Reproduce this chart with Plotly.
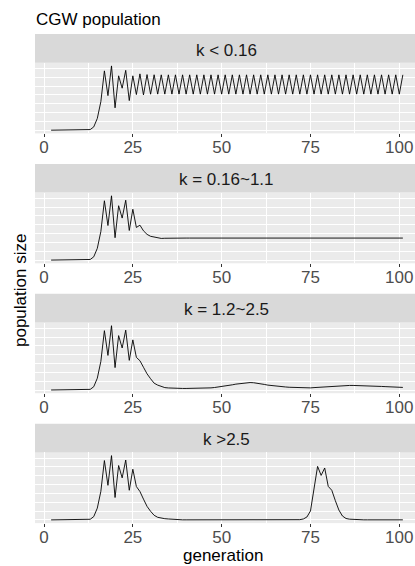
import plotly.graph_objects as go

# ---------------- data ----------------
generation = list(range(2, 102))

pop_k_lt_016 = [
    5, 5, 5, 5, 6, 6, 7, 8, 10, 13, 18, 40, 190, 670, 1620, 3360, 1960, 3640, 1270, 3080,
    2380, 3390, 1680,
    3080, 2020, 3190, 2000, 3150, 2040, 3140, 2045,
    3135, 2045, 3135, 2045, 3135, 2045, 3135, 2045, 3135, 2045,
    3135, 2045, 3135, 2045, 3135, 2045, 3135, 2045, 3135, 2045,
    3135, 2045, 3135, 2045, 3135, 2045, 3135, 2045, 3135, 2045,
    3135, 2045, 3135, 2045, 3135, 2045, 3135, 2045, 3135, 2045,
    3135, 2045, 3135, 2045, 3135, 2045, 3135, 2045, 3135, 2045,
    3135, 2045, 3135, 2045, 3135, 2045, 3135, 2045, 3135, 2045,
    3135, 2045, 3135, 2045, 3135, 2045, 3135, 2045, 3135,
]

pop_k_016_11 = [
    5, 5, 5, 5, 6, 6, 7, 8, 10, 13, 18, 40, 190, 670, 1620, 3360, 1960, 3640, 1270, 3080,
    2380, 3390, 1680,
    2880, 1850, 1980, 1660, 1460, 1350, 1300, 1255, 1230, 1240, 1248,
    1250, 1250, 1250, 1250, 1250, 1250, 1250, 1250, 1250, 1250,
    1250, 1250, 1250, 1250, 1250, 1250, 1250, 1250, 1250, 1250,
    1250, 1250, 1250, 1250, 1250, 1250, 1250, 1250, 1250, 1250,
    1250, 1250, 1250, 1250, 1250, 1250, 1250, 1250, 1250, 1250,
    1250, 1250, 1250, 1250, 1250, 1250, 1250, 1250, 1250, 1250,
    1250, 1250, 1250, 1250, 1250, 1250, 1250, 1250, 1250, 1250,
    1250, 1250, 1250, 1250, 1250, 1250,
]

pop_k_12_25 = [
    5, 5, 5, 5, 6, 6, 7, 8, 10, 13, 18, 40, 190, 670, 1620, 3360, 1960, 3640, 1270, 3080,
    2380, 3390, 1680,
    2840, 1850, 1660, 1290, 920, 640, 390, 280, 195, 140, 120,
    105, 98, 94, 92, 92, 92, 92, 94, 97, 102, 110,
    125, 145, 168, 185, 224, 263, 297, 336, 364, 392,
    415, 425, 415, 392, 364, 319, 280, 252, 224, 207,
    190, 175, 160, 148, 138, 128, 122, 120, 124, 140,
    155, 168, 180, 192, 205, 222, 240, 252, 260, 262,
    262, 260, 252, 245, 238, 232, 224, 215, 205, 196,
    185, 175, 168, 160, 150,
]

pop_k_gt_25 = [
    5, 5, 5, 5, 6, 6, 7, 8, 10, 13, 18, 40, 190, 670, 1620, 3360, 1960, 3640, 1270, 3080,
    2380, 3390, 1680,
    2870, 1890, 1610, 1180, 770, 490, 265, 150, 95, 73, 56, 34, 17,
    8, 8, 8, 8, 8, 8, 8, 8, 8, 8,
    8, 8, 8, 8, 8, 8, 8, 8, 8, 8,
    8, 8, 8, 8, 8, 8, 8, 8, 8, 8,
    8, 8, 8, 8,
    17, 56, 168, 510, 1790, 3030, 2520, 2940, 1900, 1680,
    1090, 560, 224, 84, 45, 28, 22, 17,
    8, 8, 8, 8, 8, 8, 8, 8, 8, 8, 8, 8,
]

panel_labels = ["k < 0.16", "k = 0.16~1.1", "k = 1.2~2.5", "k >2.5"]
series = [pop_k_lt_016, pop_k_016_11, pop_k_12_25, pop_k_gt_25]
x_ticks = [0, 25, 50, 75, 100]
title_text = "CGW population"
x_title = "generation"
y_title = "population size"

# ---------------- layout geometry (pixels) ----------------
W, H = 415, 566
FONT = "Liberation Sans, Arial, sans-serif"
FS = 17
PANEL_LEFT = 35
STRIP_TOP0 = 34.0
PERIOD = 129.9
STRIP_H = 28.7
PLOT_H = 70.7
X0_PX = 44.0
PX_PER_GEN = 3.553


def fy(px):
    return 1 - px / H


def fx(px):
    return px / W


fig = go.Figure()
shapes = []
annotations = []

xr = [(PANEL_LEFT - X0_PX) / PX_PER_GEN, (W - X0_PX) / PX_PER_GEN]

for i, (lab, ys) in enumerate(zip(panel_labels, series)):
    n = i + 1
    xa = "x" if n == 1 else f"x{n}"
    ya = "y" if n == 1 else f"y{n}"
    strip_top = STRIP_TOP0 + PERIOD * i
    strip_bot = strip_top + STRIP_H
    plot_bot = strip_bot + PLOT_H

    fig.add_trace(go.Scatter(
        x=generation, y=ys, mode="lines", xaxis=xa, yaxis=ya,
        line=dict(color="black", width=0.9), showlegend=False, hoverinfo="skip"))

    lo, hi = min(ys), max(ys)
    pad = 0.05 * (hi - lo)

    xkey = "xaxis" if n == 1 else f"xaxis{n}"
    ykey = "yaxis" if n == 1 else f"yaxis{n}"
    fig.layout[xkey] = dict(
        domain=[fx(PANEL_LEFT), 1.0], range=xr, anchor=ya,
        tickmode="array", tickvals=x_ticks, ticktext=[str(v) for v in x_ticks],
        ticks="outside", ticklen=3, tickwidth=1, tickcolor="#333333",
        ticklabelstandoff=-5,
        tickfont=dict(family=FONT, size=FS, color="#4D4D4D"),
        showgrid=True, gridcolor="white", gridwidth=1.2,
        minor=dict(tickmode="array", tickvals=[12.5, 37.5, 62.5, 87.5],
                   showgrid=True, gridcolor="white", gridwidth=0.6, ticks=""),
        zeroline=False, showline=False, fixedrange=True)
    fig.layout[ykey] = dict(
        domain=[fy(plot_bot), fy(strip_bot)], range=[lo - pad, hi + pad], anchor=xa,
        showticklabels=False, ticks="", tick0=0, dtick=1000,
        showgrid=True, gridcolor="white", gridwidth=1.2,
        minor=dict(tick0=0, dtick=500, showgrid=True, gridcolor="white",
                   gridwidth=0.6, ticks=""),
        zeroline=False, showline=False, fixedrange=True)

    shapes.append(dict(type="rect", xref="paper", yref="paper",
                       x0=fx(PANEL_LEFT), x1=1.0, y0=fy(strip_bot), y1=fy(strip_top),
                       fillcolor="#D9D9D9", line=dict(width=0), layer="below"))
    annotations.append(dict(text=lab, xref="paper", yref="paper",
                            x=fx((PANEL_LEFT + W) / 2 + 1), y=fy((strip_top + strip_bot) / 2 + 1.7),
                            xanchor="center", yanchor="middle", showarrow=False,
                            font=dict(family=FONT, size=FS, color="#1A1A1A")))

annotations.append(dict(text=title_text, xref="paper", yref="paper",
                        x=fx(PANEL_LEFT - 1), y=fy(19), xanchor="left", yanchor="middle",
                        showarrow=False, font=dict(family=FONT, size=FS, color="black")))
annotations.append(dict(text=x_title, xref="paper", yref="paper",
                        x=fx((PANEL_LEFT + 400) / 2 + 5), y=fy(555.5), xanchor="center", yanchor="middle",
                        showarrow=False, font=dict(family=FONT, size=FS, color="black")))
annotations.append(dict(text=y_title, xref="paper", yref="paper", textangle=-90,
                        x=fx(20), y=fy(291), xanchor="center", yanchor="middle",
                        showarrow=False, font=dict(family=FONT, size=FS, color="black")))

fig.update_layout(
    width=W, height=H, margin=dict(l=0, r=0, t=0, b=0),
    paper_bgcolor="white", plot_bgcolor="#EBEBEB",
    shapes=shapes, annotations=annotations, showlegend=False,
)

fig.write_html("out.html", config={"displayModeBar": False},
               post_script="document.body.style.margin='0px';")
